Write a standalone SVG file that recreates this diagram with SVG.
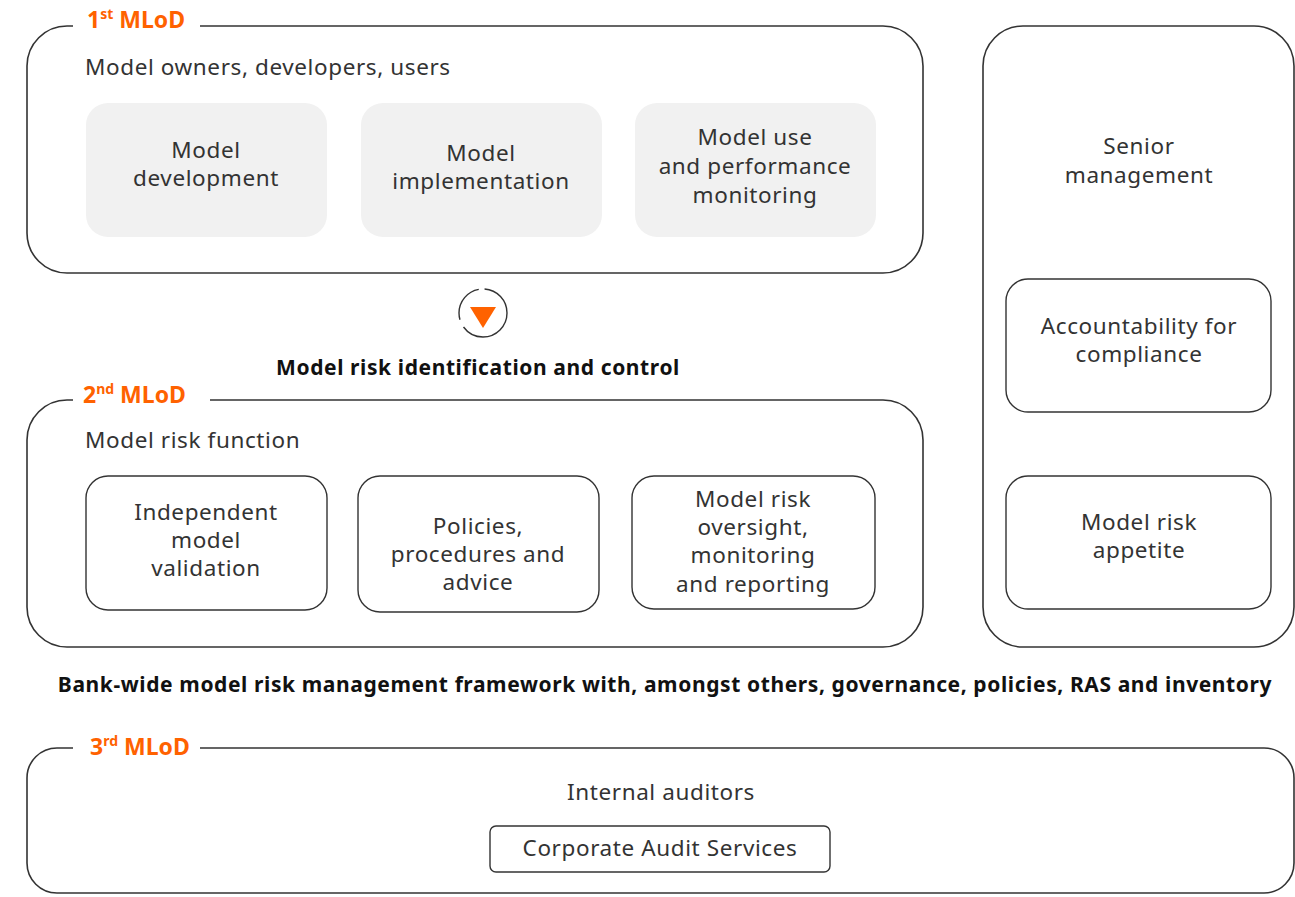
<svg xmlns="http://www.w3.org/2000/svg" width="1295" height="897" viewBox="0 0 1295 897">
<style>
.frame{fill:none;stroke:#333;stroke-width:1.6}
.gray{fill:#f1f1f1;stroke:none}
.wbox{fill:#fff;stroke:#333;stroke-width:1.4}
.t{font-family:"Noto Sans","Liberation Sans",sans-serif;font-size:22.5px;letter-spacing:0.6px;fill:#333;text-anchor:middle}
.tl{font-family:"Noto Sans","Liberation Sans",sans-serif;font-size:22.5px;letter-spacing:0.6px;fill:#333}
.b{font-family:"Noto Sans","Liberation Sans",sans-serif;font-size:21px;letter-spacing:0.6px;font-weight:bold;fill:#111;text-anchor:middle}
.lab{font-family:"Noto Sans","Liberation Sans",sans-serif;font-size:23px;font-weight:bold;fill:#ff6200}
.sup{font-size:14px}
.lbg{fill:#fff}
</style>
<rect width="1295" height="897" fill="#fff"/>
<g id="mlod1">
<rect class="frame" x="27" y="26" width="896" height="247" rx="40"/>
<rect class="lbg" x="73" y="12" width="127" height="24"/>
<text class="lab" x="87" y="28">1<tspan class="sup" dy="-9">st</tspan><tspan dy="9"> MLoD</tspan></text>
<text class="tl" x="85" y="75">Model owners, developers, users</text>
</g>
<g id="n-dev"><rect class="gray" x="86" y="103" width="241" height="134" rx="22"/>
<text class="t" x="206" y="158">Model</text><text class="t" x="206" y="186">development</text></g>
<g id="n-impl"><rect class="gray" x="361" y="103" width="241" height="134" rx="22"/>
<text class="t" x="481" y="161">Model</text><text class="t" x="481" y="189">implementation</text></g>
<g id="n-use"><rect class="gray" x="635" y="103" width="241" height="134" rx="22"/>
<text class="t" x="755" y="145">Model use</text><text class="t" x="755" y="174">and performance</text><text class="t" x="755" y="203">monitoring</text></g>
<g id="connectors">
<circle cx="483" cy="313" r="24" fill="#fff" stroke="#333" stroke-width="1.4" stroke-dasharray="60 8 40 6 40 0"/>
<polygon points="470,307 496,307 483,328" fill="#ff6200"/>
</g>
<g id="mrid"><text class="b" x="478" y="375">Model risk identification and control</text></g>
<g id="mlod2">
<rect class="frame" x="27" y="400" width="896" height="247" rx="40"/>
<rect class="lbg" x="73" y="386" width="137" height="24"/>
<text class="lab" x="83" y="403">2<tspan class="sup" dy="-9">nd</tspan><tspan dy="9">  MLoD</tspan></text>
<text class="tl" x="85" y="448">Model risk function</text>
</g>
<g id="n-val"><rect class="wbox" x="86" y="476" width="241" height="134" rx="22"/>
<text class="t" x="206" y="520">Independent</text><text class="t" x="206" y="548">model</text><text class="t" x="206" y="576">validation</text></g>
<g id="n-pol"><rect class="wbox" x="358" y="476" width="241" height="136" rx="22"/>
<text class="t" x="478" y="534">Policies,</text><text class="t" x="478" y="562">procedures and</text><text class="t" x="478" y="590">advice</text></g>
<g id="n-over"><rect class="wbox" x="632" y="476" width="243" height="133" rx="22"/>
<text class="t" x="753" y="507">Model risk</text><text class="t" x="753" y="535">oversight,</text><text class="t" x="753" y="563">monitoring</text><text class="t" x="753" y="592">and reporting</text></g>
<g id="senior">
<rect class="frame" x="983" y="26" width="311" height="621" rx="40"/>
<text class="t" x="1139" y="154">Senior</text><text class="t" x="1139" y="183">management</text>
</g>
<g id="n-acc"><rect class="wbox" x="1006" y="279" width="265" height="133" rx="22"/>
<text class="t" x="1139" y="334">Accountability for</text><text class="t" x="1139" y="362">compliance</text></g>
<g id="n-app"><rect class="wbox" x="1006" y="476" width="265" height="133" rx="22"/>
<text class="t" x="1139" y="530">Model risk</text><text class="t" x="1139" y="558">appetite</text></g>
<g id="bank"><text class="b" x="665" y="692">Bank-wide model risk management framework with, amongst others, governance, policies, RAS and inventory</text></g>
<g id="mlod3">
<rect class="frame" x="27" y="748" width="1267" height="145" rx="30"/>
<rect class="lbg" x="73" y="734" width="127" height="24"/>
<text class="lab" x="90" y="755">3<tspan class="sup" dy="-9">rd</tspan><tspan dy="9"> MLoD</tspan></text>
<text class="t" x="661" y="800">Internal auditors</text>
</g>
<g id="n-cas"><rect class="wbox" x="490" y="826" width="340" height="46" rx="6"/>
<text class="t" x="660" y="856">Corporate Audit Services</text></g>
</svg>
